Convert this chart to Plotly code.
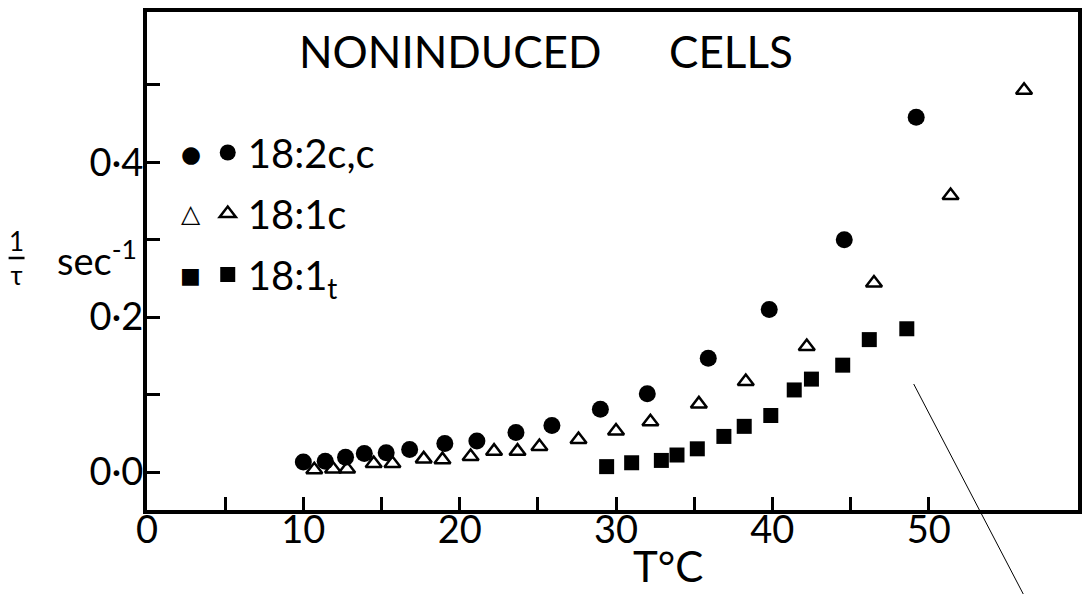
import plotly.graph_objects as go

# ---- data (T in deg C, 1/tau in sec^-1) ----
temp_diene = [10.0, 11.4, 12.7, 13.9, 15.3, 16.8, 19.05, 21.1, 23.6, 25.9, 29.0, 32.0, 35.9, 39.8, 44.6, 49.2]
rate_diene = [0.013, 0.014, 0.019, 0.024, 0.025, 0.029, 0.037, 0.040, 0.051, 0.060, 0.081, 0.101, 0.147, 0.210, 0.300, 0.458]

temp_cis = [10.7, 11.9, 12.8, 14.5, 15.7, 17.7, 18.9, 20.7, 22.2, 23.7, 25.1, 27.6, 30.0, 32.2, 35.3, 38.3, 42.2, 46.5, 51.4, 56.1]
rate_cis = [0.003, 0.004, 0.004, 0.011, 0.011, 0.017, 0.016, 0.020, 0.027, 0.027, 0.033, 0.042, 0.053, 0.065, 0.088, 0.117, 0.162, 0.244, 0.357, 0.493]

temp_trans = [29.4, 31.0, 32.9, 33.9, 35.2, 36.9, 38.2, 39.9, 41.4, 42.5, 44.5, 46.2, 48.6]
rate_trans = [0.007, 0.012, 0.015, 0.022, 0.030, 0.046, 0.059, 0.073, 0.106, 0.120, 0.138, 0.171, 0.185]

series_names = ["18:2c,c", "18:1c", "18:1<sub>t</sub>"]
legend_glyphs = ["\u25cf", "\u25b3", "\u25a0"]

x_tickvals = [0, 10, 20, 30, 40, 50]
x_ticktext = ["0", "10", "20", "30", "40", "50"]
x_minor_vals = [5, 15, 25, 35, 45]
y_tickvals = [0.0, 0.2, 0.4]
y_ticktext = ["0\u00b70", "0\u00b72", "0\u00b74"]
y_minor_vals = [0.1, 0.3, 0.5]

FONT = "Lato, 'Noto Sans', sans-serif"
GLYPH_FONT = "DejaVu Sans"

fig = go.Figure()

fig.add_trace(go.Scatter(
    x=temp_diene, y=rate_diene, mode="markers",
    name=series_names[0], legendgroup="a",
    marker=dict(symbol="circle", size=17, color="black"),
))
fig.add_trace(go.Scatter(
    x=temp_cis, y=rate_cis, mode="markers",
    name=series_names[1], legendgroup="b",
    marker=dict(symbol="triangle-up-open", size=14, color="black",
                line=dict(width=2.5, color="black")),
))
fig.add_trace(go.Scatter(
    x=temp_trans, y=rate_trans, mode="markers",
    name=series_names[2], legendgroup="c",
    marker=dict(symbol="square", size=15, color="black"),
))

W, H = 1088, 594
L, R, T, B = 147, 6, 12, 84
pw, ph = W - L - R, H - T - B


def px(x):
    return (x - L) / pw


def py(y):
    return (H - B - y) / ph


tick_style = dict(ticks="inside", ticklen=13, tickwidth=3, tickcolor="black")
axis_common = dict(
    showline=True, linewidth=4, linecolor="black", mirror=True,
    showgrid=False, zeroline=False,
    tickfont=dict(family=FONT, size=38, color="black"),
    **tick_style,
)

fig.update_layout(
    width=W, height=H,
    margin=dict(l=L, r=R, t=T, b=B, pad=0),
    paper_bgcolor="white", plot_bgcolor="white",
    font=dict(family=FONT, color="black"),
    xaxis=dict(range=[0, 59.55], tickmode="array", tickvals=x_tickvals,
               ticktext=x_ticktext, ticklabelstandoff=-17,
               minor=dict(tickmode="array", tickvals=x_minor_vals,
                          showgrid=False, **tick_style),
               **axis_common),
    yaxis=dict(range=[-0.049, 0.594], tickmode="array", tickvals=y_tickvals,
               ticktext=y_ticktext, ticklabelstandoff=-8,
               minor=dict(tickmode="array", tickvals=y_minor_vals,
                          showgrid=False, **tick_style),
               **axis_common),
    showlegend=True,
    legend=dict(
        x=px(208), y=py(120), xanchor="left", yanchor="top",
        bgcolor="rgba(0,0,0,0)", borderwidth=0,
        font=dict(family=FONT, size=40, color="black"),
        tracegroupgap=6, itemsizing="trace",
    ),
)

# first symbol of each legend row (the original legend shows each symbol twice)
glyph_rows = [154, 213, 275]
glyph_sizes = [23, 25, 22]
for g, yy, sz in zip(legend_glyphs, glyph_rows, glyph_sizes):
    fig.add_annotation(
        text=g, xref="paper", yref="paper", x=px(191), y=py(yy),
        xanchor="center", yanchor="middle", showarrow=False,
        font=dict(family=GLYPH_FONT, size=sz, color="black"),
    )

fig.add_annotation(
    text="NONINDUCED\u00a0\u00a0\u00a0\u00a0\u00a0\u00a0CELLS", xref="paper", yref="paper",
    x=px(548), y=py(51), xanchor="center", yanchor="middle", showarrow=False,
    font=dict(family=FONT, size=44, color="black"),
)
fig.add_annotation(
    text="T\u00b0C", xref="paper", yref="paper",
    x=px(670), y=py(593), xanchor="center", yanchor="bottom", showarrow=False,
    font=dict(family=FONT, size=42, color="black"),
)
fig.add_annotation(
    text="sec<sup>-1</sup>", xref="paper", yref="paper",
    x=px(55), y=py(258), xanchor="left", yanchor="middle", showarrow=False,
    font=dict(family=FONT, size=38, color="black"),
)
fig.add_annotation(
    text="1<br>\u03c4", xref="paper", yref="paper",
    x=px(16), y=py(258), xanchor="center", yanchor="middle", showarrow=False,
    font=dict(family=FONT, size=26, color="black"),
)
fig.add_shape(type="line", xref="paper", yref="paper",
              x0=px(8), x1=px(24), y0=py(258), y1=py(258),
              line=dict(color="black", width=2.5))
# stray pen stroke across the lower right of the original figure
fig.add_shape(type="line", xref="paper", yref="paper",
              x0=px(917), y0=py(384), x1=px(1027), y1=py(594),
              line=dict(color="black", width=1))

fig.write_html("out.html")
